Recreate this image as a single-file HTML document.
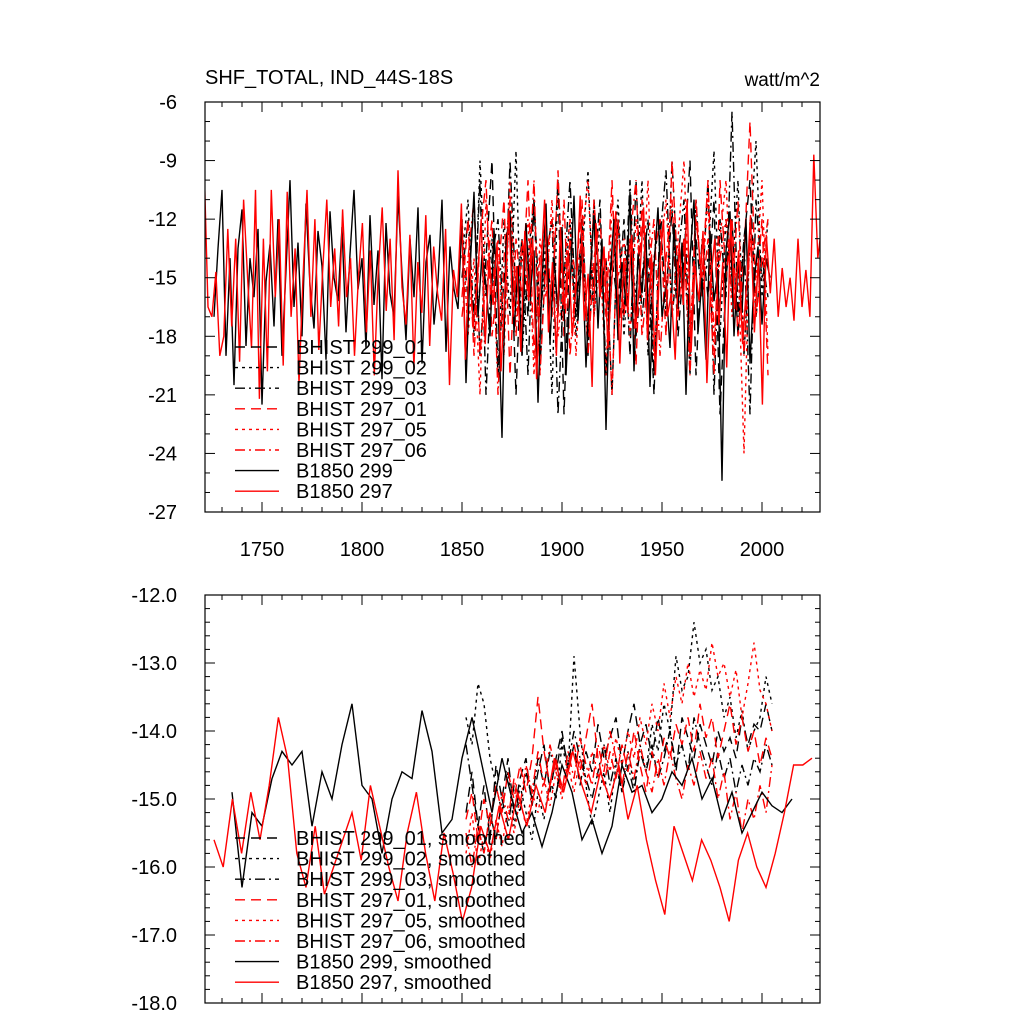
<!DOCTYPE html>
<html><head><meta charset="utf-8"><style>
html,body{margin:0;padding:0;background:#fff;}
svg{display:block;font-family:"Liberation Sans",sans-serif;}
</style></head><body>
<svg id="c" width="1024" height="1024" viewBox="0 0 1024 1024">
<text x="205" y="84" font-size="20">SHF_TOTAL, IND_44S-18S</text>
<text x="820" y="86" font-size="19" text-anchor="end">watt/m^2</text>
</svg>
<script>
// ---- data ----
const xTicks=[1750,1800,1850,1900,1950,2000];
const topYTicks=[-6,-9,-12,-15,-18,-21,-24,-27];
const botYTicks=["-12.0","-13.0","-14.0","-15.0","-16.0","-17.0","-18.0"];
const seriesNames=["BHIST 299_01","BHIST 299_02","BHIST 299_03","BHIST 297_01","BHIST 297_05","BHIST 297_06","B1850 299","B1850 297"];
const b297Top=[-9,-16.5,-17,-14.7,-19,-18,-12.5,-17.5,-13,-19.3,-11,-15,-18.6,-10.5,-21.2,-13,-19.8,-10.5,-16,-12,-19.5,-10.6,-17,-13.5,-20.4,-15,-10.5,-17,-12,-18.7,-14.5,-11,-16.5,-13.5,-17.5,-11.5,-16,-14,-19,-15,-12.2,-17.8,-13.6,-20,-14.8,-11.4,-16.7,-13,-18.2,-9.5,-15.5,-17.4,-12.8,-19.6,-14.2,-16.8,-11.8,-18.5,-13.4,-15.8,-17.2,-12.5,-20.5,-14.6,-16,-11.2,-19.2,-13.8,-17.6,-15.2,-12,-18.4,-14,-16.4,-13.2,-19.8,-15.6,-11.6,-17,-14.4,-18.8,-12.6,-16.2,-13,-20.2,-15,-11,-17.8,-14.2,-19,-12.4,-16.6,-13.6,-18,-15.4,-10.8,-17.2,-14.8,-20.6,-12.2,-16,-13.4,-18.6,-15,-11.6,-19.4,-14,-16.8,-12.8,-17.6,-15.2,-11.4,-18.2,-13.8,-20,-14.6,-12,-17,-15.8,-19.2,-13.2,-16.4,-11,-18.8,-14.4,-16.2,-12.6,-20.4,-15,-13,-17.4,-14.2,-19.6,-12,-16.6,-13.6,-18.4,-15.4,-11.8,-17.8,-14,-21.5,-12.8,-15.8,-13,-17,-14.5,-16.5,-15,-17.2,-13,-16.5,-14.6,-17,-8.7,-14,-12.3,-16.5,-17];
const b299Top=[-17,-13.5,-10.5,-19,-14,-20.5,-13.5,-11.5,-18.5,-14,-16,-12.5,-21.5,-15.2,-13.3,-17.5,-12,-19,-14.6,-10,-16.5,-13.2,-18,-11.2,-15.4,-17.6,-12.6,-14.4,-19.2,-11.6,-15,-16.2,-12.4,-17.8,-13.8,-10.5,-15.6,-14,-18.6,-11.8,-16.4,-13.6,-20.2,-12.2,-15.8,-17,-10.8,-14.8,-18.2,-13,-16,-11.4,-19.4,-14.2,-12.8,-17.4,-15.2,-11,-18.8,-13.4,-15.6,-16.6,-12,-20.4,-14.6,-10.6,-17,-13.8,-15.4,-18,-12.6,-16.2,-23.2,-13.2,-11.6,-17.8,-14.4,-19,-12.2,-16,-13.6,-21.4,-15.2,-11.2,-18.4,-14,-16.8,-12.4,-20,-15.6,-10.8,-17.2,-13.4,-19.6,-14.8,-11.8,-17.6,-13,-22.8,-15,-12,-18.2,-14.2,-16.4,-10.6,-19.8,-13.8,-15.8,-12.8,-20.6,-14.4,-11.4,-17,-15.4,-18.6,-12.2,-16.6,-13.2,-21,-14,-11,-17.8,-15,-19.2,-12.6,-16.2,-14.6,-25.4,-13.6,-11.6,-18,-14.2,-16.8,-12,-19.4,-15.2,-13.4,-17.4,-14,-15];
const h299a=[-13,-16,-11,-19,-14,-9,-20,-15,-12,-21,-13,-17,-11,-19.5,-14,-16,-10,-22,-13,-17,-12,-18,-15,-11,-20,-14,-16.5,-12,-19,-10,-17,-14,-21,-12,-16,-11.5,-18,-14,-9,-20,-13,-16,-11,-22,-15,-12,-18,-13,-10,-17,-14,-16];
const h299b=[-14,-11,-18,-9,-16,-13,-20,-12,-17,-8.5,-19,-14,-11,-17,-13,-21,-10,-16,-12,-18,-14,-9.5,-17,-12,-20,-15,-11,-18,-13,-16,-10,-19,-14,-12,-17,-9,-15,-13,-20,-11,-16,-14,-8.5,-18,-12,-15,-10,-19,-13,-8,-16,-12];
const h299c=[-15,-12,-17,-10,-21,-14,-12,-18,-9,-16,-13,-20,-11,-17,-14,-12,-22,-15,-10,-17,-13,-19,-11,-16,-14,-21,-12,-17,-10,-18,-15,-12,-20,-13,-9.5,-17,-14,-11,-19,-13,-16,-10,-21,-12,-16,-6.5,-17,-13,-22,-11,-15,-14];
const h297a=[-16,-12,-19,-13,-10,-18,-15,-11,-20,-13,-16,-10,-19,-14,-12,-17,-9.5,-18,-13,-15,-11,-19,-14,-12,-17,-10,-18,-15,-13,-19.5,-11,-16,-14,-12,-18,-9,-15,-13,-19,-11,-16,-13,-20,-10,-15,-12,-18,-14,-7,-16,-12,-20];
const h297b=[-12,-18,-14,-21,-11,-16,-13,-19,-10,-17,-14,-12,-20,-13,-16,-11,-18,-15,-12,-19,-13,-10,-17,-14,-20,-11,-15,-13,-18,-12,-16,-10,-19,-14,-11,-17,-13,-9,-18,-12,-15,-11,-19,-13,-10,-17,-14,-24,-12,-15,-10,-19];
const h297c=[-17,-14,-11,-19,-15,-12,-21,-14,-11,-18,-13,-16,-10,-20,-14,-12,-17,-11,-19,-15,-13,-18,-11,-16,-14,-21,-12,-17,-13,-10,-18,-15,-12,-19,-14,-11,-17,-13,-20,-12,-15,-10,-18,-14,-12,-16,-11,-19,-13,-17,-14,-12];
const b297Bot=[-15.6,-16.0,-15.0,-15.8,-14.9,-15.6,-14.8,-13.8,-14.4,-15.8,-16.3,-15.4,-16.4,-16.0,-15.6,-15.2,-15.9,-14.8,-15.4,-16.0,-16.5,-15.5,-14.9,-15.8,-16.5,-15.5,-16.1,-16.8,-16.3,-15.4,-15.8,-15.1,-15.6,-14.9,-15.4,-14.8,-15.2,-14.4,-14.9,-14.3,-14.8,-15.2,-14.6,-15.0,-14.5,-15.3,-14.8,-15.6,-16.2,-16.7,-15.4,-15.8,-16.2,-15.6,-15.9,-16.3,-16.8,-15.9,-15.5,-16.0,-16.3,-15.8,-15.2,-14.5,-14.5,-14.4];
const b299Bot=[-14.9,-16.3,-15.2,-15.4,-14.7,-14.3,-14.5,-14.3,-15.4,-14.6,-15.0,-14.2,-13.6,-14.8,-15.0,-15.8,-15.0,-14.6,-14.7,-13.7,-14.3,-15.5,-15.3,-14.4,-13.8,-14.5,-15.2,-14.4,-15.0,-15.5,-15.2,-15.7,-15.2,-14.5,-14.9,-15.6,-15.3,-15.8,-15.4,-14.5,-14.9,-14.8,-15.2,-15.0,-14.6,-14.8,-14.4,-15.0,-14.7,-15.3,-14.9,-15.5,-15.2,-14.9,-15.1,-15.2,-15.0];
const h299aBot=[-15.2,-14.6,-15.4,-14.8,-15.6,-14.5,-15.0,-14.4,-15.2,-14.7,-14.4,-15.1,-14.6,-14.2,-14.9,-14.4,-14.0,-14.6,-14.2,-14.8,-14.3,-14.6,-13.9,-14.4,-14.1,-13.8,-14.5,-14.0,-13.6,-14.2,-13.9,-14.4,-13.8,-14.3,-14.0,-14.6,-13.8,-14.1,-14.4,-13.9,-14.2,-14.5,-14.0,-14.3,-14.1,-14.4,-13.8,-14.2,-13.9,-14.0,-13.6,-14.0];
const h299bBot=[-13.8,-14.2,-13.3,-13.6,-14.4,-14.8,-15.2,-14.6,-15.4,-14.8,-15.2,-15.6,-14.9,-15.3,-14.7,-15.0,-14.2,-14.6,-12.9,-14.0,-14.8,-15.4,-15.0,-14.6,-15.2,-14.5,-14.9,-14.3,-14.8,-14.2,-14.6,-13.9,-14.3,-13.6,-14.0,-12.9,-13.4,-13.2,-12.4,-13.0,-12.8,-13.4,-13.2,-13.8,-13.5,-14.1,-13.7,-14.3,-14.0,-13.8,-13.2,-13.6];
const h299cBot=[-14.2,-14.8,-15.4,-15.8,-15.2,-15.6,-15.0,-15.4,-14.8,-15.2,-14.6,-15.0,-14.4,-14.8,-14.3,-14.6,-14.1,-14.5,-14.0,-14.4,-14.7,-15.0,-14.6,-14.2,-14.8,-14.4,-14.9,-14.5,-14.9,-14.3,-14.6,-14.2,-14.7,-14.4,-14.0,-14.5,-14.2,-14.6,-13.8,-14.2,-14.5,-14.8,-14.3,-14.7,-14.4,-14.9,-14.5,-14.8,-14.4,-14.6,-14.2,-14.5];
const h297aBot=[-15.3,-14.9,-15.6,-15.0,-15.4,-14.8,-15.2,-14.6,-15.0,-14.5,-14.9,-14.4,-13.5,-14.3,-14.8,-14.4,-14.9,-14.5,-14.2,-14.6,-14.1,-13.6,-14.4,-14.8,-14.3,-14.7,-14.2,-14.6,-14.0,-14.5,-14.9,-14.3,-14.7,-14.1,-14.4,-13.9,-14.2,-13.8,-14.3,-13.6,-14.1,-13.8,-14.4,-14.0,-13.6,-14.2,-13.8,-14.3,-14.0,-14.5,-14.1,-14.4];
const h297bBot=[-15.8,-15.2,-16.0,-15.5,-15.9,-15.3,-15.7,-15.1,-15.5,-15.0,-15.4,-14.9,-15.2,-14.7,-15.1,-14.6,-15.0,-14.5,-14.9,-14.4,-14.8,-14.3,-14.7,-14.2,-14.6,-14.1,-14.5,-14.0,-14.4,-13.8,-14.2,-13.6,-14.0,-13.3,-13.8,-13.2,-13.6,-13.0,-13.5,-13.1,-13.4,-12.7,-13.2,-13.0,-13.5,-13.1,-13.8,-13.3,-12.7,-13.4,-13.6,-14.0];
const h297cBot=[-15.5,-16.0,-15.4,-15.8,-15.2,-15.6,-14.9,-15.3,-14.7,-15.1,-14.5,-14.9,-14.3,-14.8,-14.2,-14.6,-14.9,-14.3,-14.7,-14.1,-14.5,-14.8,-14.2,-14.6,-14.0,-14.4,-14.8,-14.3,-14.7,-14.2,-14.6,-14.9,-14.4,-14.8,-14.3,-14.7,-15.0,-14.5,-14.8,-14.3,-14.7,-14.4,-15.0,-14.6,-15.3,-14.9,-15.5,-15.0,-15.3,-14.8,-15.2,-14.5];
// ---- layout ----
const NS="http://www.w3.org/2000/svg";
const svg=document.getElementById('c');
const X0=205,X1=820,XMIN=1721.5,XMAX=2029;
const sx=y=>X0+(y-XMIN)/(XMAX-XMIN)*(X1-X0);
function mk(t,a,p){const e=document.createElementNS(NS,t);for(const k in a)e.setAttribute(k,a[k]);(p||svg).appendChild(e);return e;}
const styles=[{c:"#000",d:"10,6"},{c:"#000",d:"3,4"},{c:"#000",d:"10,4,2,4"},{c:"#f00",d:"10,6"},{c:"#f00",d:"3,4"},{c:"#f00",d:"10,4,2,4"},{c:"#000",d:""},{c:"#f00",d:""}];
function panel(name,T,B,ymin,ymax,majorStep,minorStep,yLabels,showX,series,legendY,suffix){
  const sy=v=>T+(ymax-v)/(ymax-ymin)*(B-T);
  const g=mk('g',{});
  
  
  const clipId=name+'-clip';
  const cp=mk('clipPath',{id:clipId},g);mk('rect',{x:X0,y:T,width:X1-X0,height:B-T},cp);
  const lg=mk('g',{'clip-path':'url(#'+clipId+')'},g);
  series.forEach((s,i)=>{
    let d='';s.vals.forEach((v,j)=>{d+=(j?'L':'M')+sx(s.start+j*s.step).toFixed(1)+','+sy(v).toFixed(1);});
    const p=mk('path',{d:d,fill:'none',stroke:styles[i].c,'stroke-width':1.4,'stroke-dasharray':styles[i].d},lg);
    
    
  });
  const fr=mk('rect',{x:X0,y:T,width:X1-X0,height:B-T,fill:'none',stroke:'#000','stroke-width':1.2},g);
  
  
  const n=Math.round((ymax-ymin)/minorStep);
  for(let k=0;k<=n;k++){const v=ymax-k*minorStep;const y=sy(v);const maj=(Math.abs((ymax-v)/majorStep-Math.round((ymax-v)/majorStep))<1e-6);const L=maj?10:5;
    mk('line',{x1:X0,x2:X0+L,y1:y,y2:y,stroke:'#000','stroke-width':1},g);mk('line',{x1:X1,x2:X1-L,y1:y,y2:y,stroke:'#000','stroke-width':1},g);}
  yLabels.forEach((lab,k)=>{const t=mk('text',{x:177,y:sy(ymax-k*majorStep)+7,'font-size':20,'text-anchor':'end'},g);t.textContent=lab;
    
    });
  for(let yr=1730;yr<=2020;yr+=10){const x=sx(yr);const L=(yr%50===0)?10:5;
    mk('line',{x1:x,x2:x,y1:B,y2:B-L,stroke:'#000'},g);mk('line',{x1:x,x2:x,y1:T,y2:T+L,stroke:'#000'},g);}
  if(showX)xTicks.forEach(yr=>{const t=mk('text',{x:sx(yr),y:B+44,'font-size':20,'text-anchor':'middle'},g);t.textContent=yr;
    
    });
  seriesNames.forEach((nm,i)=>{const y=legendY+i*20.6;
    const le=mk('g',{},g);
    
    
    mk('line',{x1:235,x2:279,y1:y,y2:y,stroke:styles[i].c,'stroke-width':1.4,'stroke-dasharray':styles[i].d},le);
    const t=mk('text',{x:296,y:y+7,'font-size':20},le);t.textContent=nm+suffix;});
}
panel('top-panel',102,512,-27,-6,3,1,topYTicks.map(String),true,[
 {start:1850,step:3,vals:h299a},{start:1850,step:3,vals:h299b},{start:1850,step:3,vals:h299c},
 {start:1850,step:3,vals:h297a},{start:1850,step:3,vals:h297b},{start:1850,step:3,vals:h297c},
 {start:1726,step:2,vals:b299Top},{start:1721,step:1.98,vals:b297Top}],347,'');
panel('bottom-panel',595,1003,-18,-12,1,0.2,botYTicks,false,[
 {start:1852,step:3,vals:h299aBot},{start:1852,step:3,vals:h299bBot},{start:1852,step:3,vals:h299cBot},
 {start:1852,step:3,vals:h297aBot},{start:1852,step:3,vals:h297bBot},{start:1852,step:3,vals:h297cBot},
 {start:1735,step:5,vals:b299Bot},{start:1726,step:4.6,vals:b297Bot}],838,', smoothed');
</script>
</body></html>
